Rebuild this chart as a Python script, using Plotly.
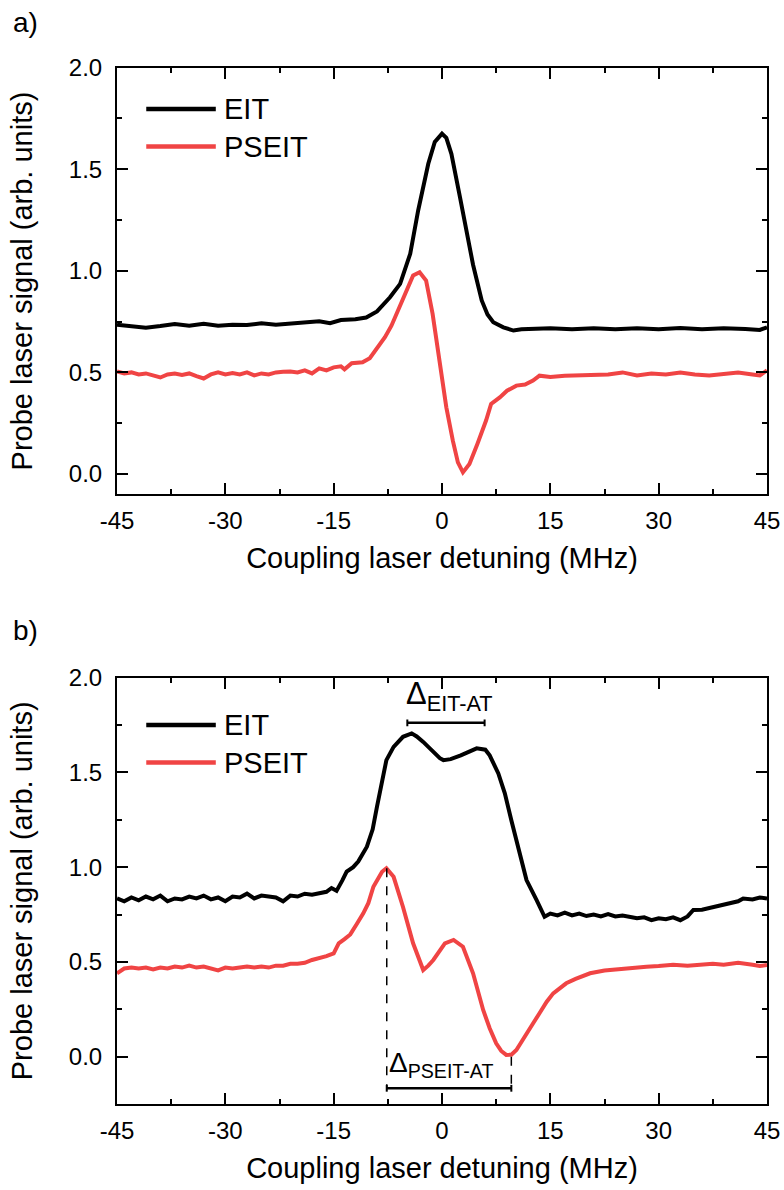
import plotly.graph_objects as go

# ---------------- data ----------------
# Panel a) EIT
a_eit_x = [-45, -43, -41, -39, -37, -35, -33, -31, -29, -27, -25, -23, -21, -19, -17, -15.5, -14, -12,
           -10.5, -9, -7.2, -5.8, -4.4, -3.3, -1.9, -1.0, 0.0, 0.6, 1.3, 2.5, 3.4, 4.3, 5.5, 6.3, 7.1,
           8.5, 9.9, 11, 13, 15, 18, 21, 24, 27, 30, 33, 36, 39, 42, 44, 45]
a_eit_y = [0.735, 0.728, 0.720, 0.728, 0.738, 0.730, 0.740, 0.730, 0.735, 0.733, 0.742, 0.735, 0.740,
           0.745, 0.752, 0.742, 0.758, 0.762, 0.770, 0.800, 0.870, 0.936, 1.084, 1.297, 1.527, 1.634,
           1.675, 1.655, 1.576, 1.360, 1.200, 1.030, 0.854, 0.785, 0.747, 0.722, 0.706, 0.712, 0.715,
           0.717, 0.713, 0.718, 0.712, 0.717, 0.713, 0.719, 0.712, 0.718, 0.714, 0.709, 0.722]

# Panel a) PSEIT
a_ps_x = [-45, -44, -43, -42, -41, -40, -39, -38, -37, -36, -35, -34, -33, -32, -31, -30, -29, -28,
          -27, -26, -25, -24, -23, -22, -21, -20, -19, -18, -17, -16, -15, -14, -13.5, -12.5, -11,
          -10, -9, -8.6, -7.9, -7, -6.3, -4.9, -4.0, -3.1, -2.2, -1.3, -0.3, 0.6, 1.5, 2.2, 2.9, 3.8,
          4.9, 6.1, 6.8, 8.0, 9, 10.3, 11.5, 12.6, 13.5, 15, 17, 19, 21, 23, 25, 27, 29, 31, 33, 35,
          37, 39, 41, 43, 44, 45]
a_ps_y = [0.505, 0.495, 0.500, 0.490, 0.495, 0.485, 0.475, 0.490, 0.495, 0.488, 0.495, 0.482, 0.470,
          0.490, 0.500, 0.490, 0.497, 0.490, 0.500, 0.485, 0.495, 0.490, 0.500, 0.503, 0.505, 0.500,
          0.510, 0.495, 0.520, 0.510, 0.525, 0.530, 0.515, 0.545, 0.550, 0.570, 0.620, 0.632, 0.673,
          0.730, 0.788, 0.903, 0.977, 0.993, 0.952, 0.788, 0.558, 0.328, 0.164, 0.057, 0.008, 0.049,
          0.148, 0.263, 0.345, 0.377, 0.410, 0.435, 0.440, 0.460, 0.484, 0.478, 0.484, 0.485, 0.490,
          0.490, 0.500, 0.485, 0.495, 0.490, 0.500, 0.490, 0.485, 0.495, 0.500, 0.490, 0.485, 0.510]

# Panel b) EIT
b_eit_x = [-45, -44, -43, -42, -41, -40, -39, -38, -37, -36, -35, -34, -33, -32, -31, -30, -29, -28,
           -27, -26, -25, -24, -23, -22, -21, -20, -19, -18, -17, -16, -15.3, -14.6, -13.8, -13.2,
           -12.3, -11.6, -10.4, -9.6, -9.0, -8.1, -7.7, -6.7, -5.4, -4.2, -3.5, -2.6, -1.2, -0.3, 0.2,
           1.2, 2.6, 3.7, 4.8, 6.0, 6.6, 7.8, 8.7, 9.6, 10.6, 11.7, 13.1, 14.2, 15, 16, 17, 18, 19, 20,
           21, 22, 23, 24, 25, 26, 27, 28, 29, 30, 31, 32, 33, 34, 34.8, 36, 37.5, 39, 40, 41, 41.7,
           43, 44, 45]
b_eit_y = [0.835, 0.820, 0.840, 0.825, 0.845, 0.830, 0.850, 0.820, 0.835, 0.830, 0.845, 0.835, 0.850,
           0.830, 0.840, 0.820, 0.845, 0.840, 0.860, 0.835, 0.850, 0.845, 0.840, 0.820, 0.850, 0.845,
           0.860, 0.855, 0.865, 0.870, 0.890, 0.875, 0.930, 0.976, 1.000, 1.030, 1.108, 1.200, 1.320,
           1.495, 1.565, 1.635, 1.688, 1.706, 1.690, 1.661, 1.609, 1.575, 1.565, 1.570, 1.590, 1.610,
           1.627, 1.620, 1.590, 1.495, 1.390, 1.248, 1.090, 0.932, 0.826, 0.738, 0.755, 0.745, 0.760,
           0.745, 0.755, 0.742, 0.750, 0.740, 0.752, 0.740, 0.745, 0.738, 0.730, 0.735, 0.720, 0.730,
           0.725, 0.735, 0.720, 0.740, 0.774, 0.775, 0.790, 0.800, 0.815, 0.820, 0.835, 0.830, 0.840,
           0.835]

# Panel b) PSEIT
b_ps_x = [-45, -44, -43, -42, -41, -40, -39, -38, -37, -36, -35, -34, -33, -32, -31, -30, -29, -28,
          -27, -26, -25, -24, -23, -22, -21, -20, -19, -18, -17, -16, -15, -14.3, -13.5, -12.7, -11.8,
          -10.9, -10.2, -9.5, -8.3, -7.7, -6.7, -6.0, -5.4, -4.0, -3.3, -2.6, -1.9, -1.2, 0.4, 1.6,
          2.9, 4.3, 5.7, 6.6, 7.5, 8.2, 8.9, 9.6, 10.3, 11.0, 11.7, 12.6, 13.5, 14.5, 15.4, 16.3, 17.2,
          18.5, 20.5, 22.5, 25.1, 27, 28.3, 30, 32, 34, 36, 37.5, 39, 41, 43, 44, 45]
b_ps_y = [0.440, 0.465, 0.470, 0.465, 0.470, 0.460, 0.470, 0.465, 0.475, 0.470, 0.480, 0.470, 0.475,
          0.465, 0.455, 0.470, 0.465, 0.470, 0.475, 0.470, 0.475, 0.470, 0.480, 0.480, 0.490, 0.490,
          0.495, 0.510, 0.519, 0.530, 0.545, 0.598, 0.620, 0.645, 0.700, 0.756, 0.810, 0.897, 0.976,
          0.994, 0.949, 0.870, 0.790, 0.598, 0.520, 0.457, 0.480, 0.510, 0.598, 0.616, 0.580, 0.440,
          0.246, 0.150, 0.070, 0.030, 0.009, 0.010, 0.035, 0.080, 0.123, 0.175, 0.229, 0.290, 0.334,
          0.360, 0.387, 0.410, 0.440, 0.455, 0.466, 0.470, 0.475, 0.478, 0.485, 0.480, 0.488, 0.490,
          0.485, 0.495, 0.485, 0.478, 0.484]

series_names = ["EIT", "PSEIT"]
x_ticks = [-45, -30, -15, 0, 15, 30, 45]
x_tick_labels = ["-45", "-30", "-15", "0", "15", "30", "45"]
y_ticks = [0.0, 0.5, 1.0, 1.5, 2.0]
y_tick_labels = ["0.0", "0.5", "1.0", "1.5", "2.0"]

# splitting annotations in panel b (MHz, arb. units)
eit_at_span = [-4.8, 5.9]
eit_at_level = 1.762
pseit_at_span = [-7.65, 9.6]
pseit_at_level = -0.167
pseit_peak_level = 0.994
pseit_dip_level = 0.0

# ---------------- styling ----------------
BLACK = "#000000"
RED = "#F04444"
FONT = "Arial, Liberation Sans, sans-serif"
W, H = 784, 1190
ML, MR = 116.7, 16.7

def ydom(top_px, bot_px):
    return [1 - bot_px / H, 1 - top_px / H]

def paper_x(px):
    return (px - ML) / (W - ML - MR)

def paper_y(py):
    return 1 - py / H

LW = 4
fig = go.Figure()
fig.add_trace(go.Scatter(x=a_eit_x, y=a_eit_y, mode="lines", name=series_names[0],
                         line=dict(color=BLACK, width=LW), showlegend=False, xaxis="x", yaxis="y"))
fig.add_trace(go.Scatter(x=a_ps_x, y=a_ps_y, mode="lines", name=series_names[1],
                         line=dict(color=RED, width=LW), showlegend=False, xaxis="x", yaxis="y"))
fig.add_trace(go.Scatter(x=b_eit_x, y=b_eit_y, mode="lines", name=series_names[0],
                         line=dict(color=BLACK, width=LW), showlegend=False, xaxis="x2", yaxis="y2"))
fig.add_trace(go.Scatter(x=b_ps_x, y=b_ps_y, mode="lines", name=series_names[1],
                         line=dict(color=RED, width=LW), showlegend=False, xaxis="x2", yaxis="y2"))

def xaxis_style(anchor):
    return dict(anchor=anchor, domain=[0, 1], range=[-45, 45],
                tickvals=x_ticks, ticktext=x_tick_labels,
                showline=True, linecolor=BLACK, linewidth=2, mirror="ticks",
                ticks="inside", ticklen=11, tickwidth=2, tickcolor=BLACK,
                minor=dict(ticks="inside", ticklen=5, tickwidth=2, tickcolor=BLACK, dtick=7.5, tick0=-45),
                showgrid=False, zeroline=False, ticklabelstandoff=4,
                tickfont=dict(family=FONT, size=24, color=BLACK),
                title=dict(text="Coupling laser detuning (MHz)", standoff=15,
                           font=dict(family=FONT, size=29, color=BLACK)),
                automargin=False)

def yaxis_style(anchor, domain, rng):
    return dict(anchor=anchor, domain=domain, range=rng,
                tickvals=y_ticks, ticktext=y_tick_labels,
                showline=True, linecolor=BLACK, linewidth=2, mirror="ticks",
                ticks="inside", ticklen=11, tickwidth=2, tickcolor=BLACK,
                minor=dict(ticks="inside", ticklen=5, tickwidth=2, tickcolor=BLACK, dtick=0.25, tick0=0),
                showgrid=False, zeroline=False, ticklabelstandoff=8,
                tickfont=dict(family=FONT, size=24, color=BLACK),
                title=dict(text="Probe laser signal (arb. units)", standoff=28,
                           font=dict(family=FONT, size=29, color=BLACK)),
                automargin=False)

fig.update_layout(
    width=W, height=H,
    margin=dict(l=ML, r=MR, t=0, b=0),
    paper_bgcolor="white", plot_bgcolor="white",
    xaxis=xaxis_style("y"),
    yaxis=yaxis_style("x", ydom(67.7, 494.3), [-0.1, 2.0]),
    xaxis2=xaxis_style("y2"),
    yaxis2=yaxis_style("x2", ydom(677.7, 1104), [-0.25, 2.0]),
    showlegend=False,
)

shapes = []
annotations = []

# manual legends (line sample + text), positioned in axis-domain fractions
def add_legend(xd, yd, yvals):
    for name, color, yv in zip(series_names, [BLACK, RED], yvals):
        shapes.append(dict(type="line", xref=xd, yref=yd, x0=0.045, x1=0.152, y0=yv, y1=yv,
                           line=dict(color=color, width=4.5)))
        annotations.append(dict(xref=xd, yref=yd, x=0.161, y=yv, text=name, showarrow=False,
                                xanchor="left", yanchor="middle",
                                font=dict(family=FONT, size=29, color=BLACK)))

add_legend("x domain", "y domain", [0.903, 0.815])
add_legend("x2 domain", "y2 domain", [0.889, 0.801])

# panel labels
annotations.append(dict(xref="paper", yref="paper", x=paper_x(11), y=paper_y(22),
                        text="a)", showarrow=False, xanchor="left", yanchor="middle",
                        font=dict(family=FONT, size=28, color=BLACK)))
annotations.append(dict(xref="paper", yref="paper", x=paper_x(11), y=paper_y(630),
                        text="b)", showarrow=False, xanchor="left", yanchor="middle",
                        font=dict(family=FONT, size=28, color=BLACK)))

# splitting markers in panel b
def span_bar(x0, x1, yv):
    shapes.append(dict(type="line", xref="x2", yref="y2", x0=x0, x1=x1, y0=yv, y1=yv,
                       line=dict(color=BLACK, width=2.5)))
    for xv in (x0, x1):
        shapes.append(dict(type="line", xref="x2", yref="y2", x0=xv, x1=xv,
                           y0=yv - 0.018, y1=yv + 0.018, line=dict(color=BLACK, width=2)))

span_bar(eit_at_span[0], eit_at_span[1], eit_at_level)
span_bar(pseit_at_span[0], pseit_at_span[1], pseit_at_level)
shapes.append(dict(type="line", xref="x2", yref="y2", x0=pseit_at_span[0], x1=pseit_at_span[0],
                   y0=pseit_peak_level, y1=pseit_at_level, line=dict(color=BLACK, width=1.5, dash="dash")))
shapes.append(dict(type="line", xref="x2", yref="y2", x0=pseit_at_span[1], x1=pseit_at_span[1],
                   y0=pseit_dip_level, y1=pseit_at_level, line=dict(color=BLACK, width=1.5, dash="dash")))

annotations.append(dict(xref="x2", yref="y2", x=eit_at_span[0] - 0.4, y=eit_at_level + 0.025,
                        text="Δ<sub>EIT-AT</sub>", showarrow=False, xanchor="left", yanchor="bottom",
                        font=dict(family=FONT, size=31, color=BLACK)))
annotations.append(dict(xref="x2", yref="y2", x=pseit_at_span[0] + 0.05, y=pseit_at_level + 0.02,
                        text="Δ<sub>PSEIT-AT</sub>", showarrow=False, xanchor="left", yanchor="bottom",
                        font=dict(family=FONT, size=28, color=BLACK)))

fig.update_layout(shapes=shapes, annotations=annotations)
# remove the default 8px page margin so the 784x1190 figure fills the window exactly
fig.write_html("out.html", config={"displayModeBar": False},
               post_script="document.body.style.margin='0';document.body.style.overflow='hidden';")
